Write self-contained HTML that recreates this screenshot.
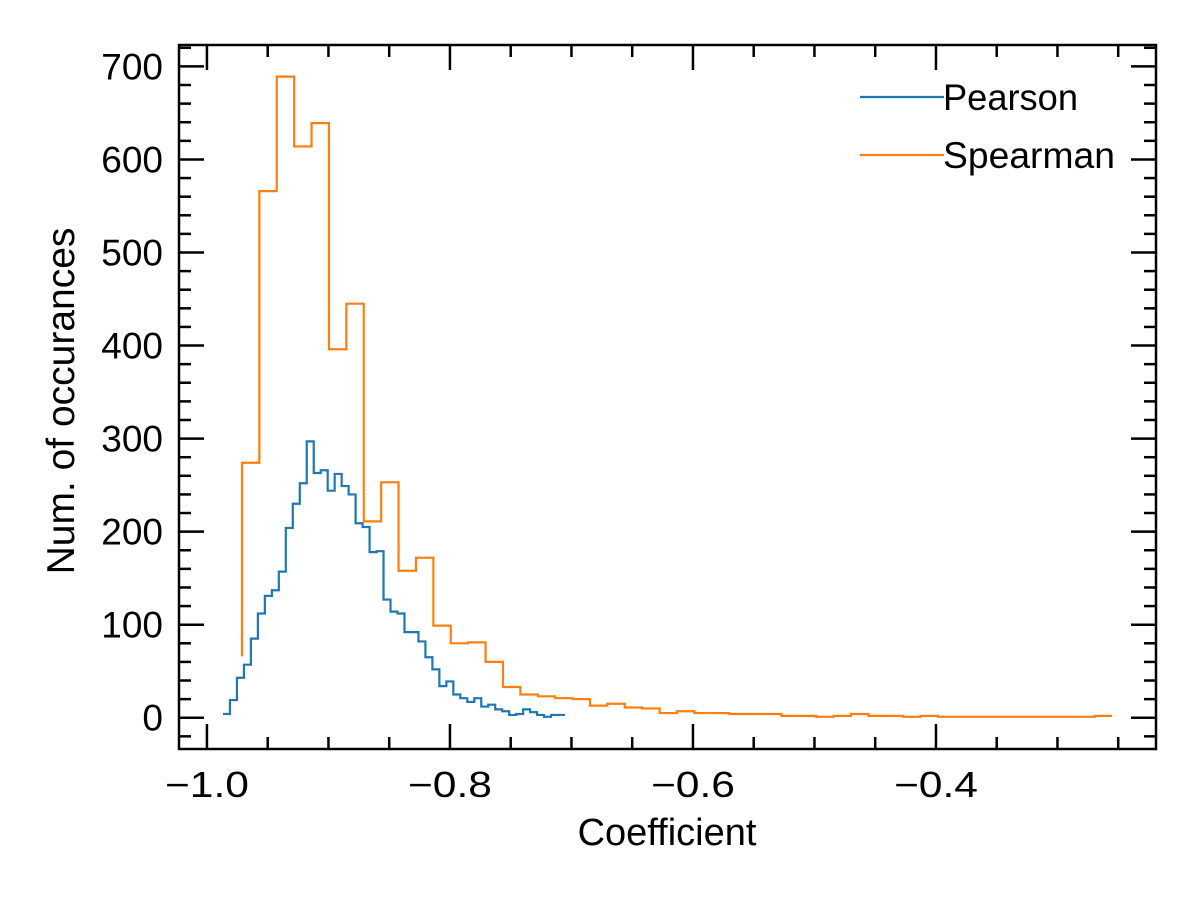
<!DOCTYPE html>
<html><head><meta charset="utf-8"><style>
html,body{margin:0;padding:0;background:#fff}
svg text{font-family:"Liberation Sans",sans-serif;fill:#000}
</style></head><body>
<svg id="chart" width="1200" height="900" xmlns="http://www.w3.org/2000/svg">
<g id="marks"></g>
<g id="axes"></g>
</svg>
<script>
const pearsonStart = -0.9868, pearsonEnd = -0.7053;
const pearsonCounts = [4,4,19,43,57,85,112,131,137,157,204,230,252,297,263,266,244,262,249,240,209,205,178,179,127,114,112,92,92,82,65,52,34,39,25,21,17,21,12,14,9,7,3,4,9,6,3,1,3,3];
const spearmanStart = -0.9712, spearmanEnd = -0.2551;
const spearmanCounts = [66,274,566,689,614,639,396,445,211,253,158,172,99,80,81,60,33,25,23,21,20,13,15,11,10,5,7,5,5,4,4,4,2,2,1,2,4,2,2,1,2,1,1,1,1,1,1,1,1,1,2];
const xTicks = [-1.0,-0.8,-0.6,-0.4];
const xTickLabels = ["\u22121.0","\u22120.8","\u22120.6","\u22120.4"];
const yTicks = [0,100,200,300,400,500,600,700];

const L=179,R=1156,T=45,B=749;
const xMin=-1.0230,xMax=-0.2189,yMin=-33.6,yMax=723;
const sx=v=>L+(v-xMin)/(xMax-xMin)*(R-L);
const sy=v=>B-(v-yMin)/(yMax-yMin)*(B-T);
const NS="http://www.w3.org/2000/svg";
function mk(tag,attrs,parent){const e=document.createElementNS(NS,tag);for(const k in attrs)e.setAttribute(k,attrs[k]);parent.appendChild(e);return e;}
const marks=document.getElementById('marks'), axes=document.getElementById('axes');

function stepPath(start,end,counts){
  const n=counts.length-1, w=(end-start)/n;
  let d=`M${sx(start).toFixed(2)},${sy(counts[0]).toFixed(2)}`;
  for(let i=1;i<=n;i++){d+=` V${sy(counts[i]).toFixed(2)} H${sx(start+i*w).toFixed(2)}`;}
  return d;
}
const p1=mk('path',{d:stepPath(pearsonStart,pearsonEnd,pearsonCounts),fill:'none',stroke:'#1f77b4','stroke-width':2.2},marks);


const p2=mk('path',{d:stepPath(spearmanStart,spearmanEnd,spearmanCounts),fill:'none',stroke:'#ff7f0e','stroke-width':2.2},marks);



const fr=mk('rect',{x:L,y:T,width:R-L,height:B-T,fill:'none',stroke:'#000','stroke-width':2.5},axes);


for(let k=0;k<=15;k++){
  const v=-1.0+k*0.05;
  const x=sx(v); const major=k%4===0;
  const len=major?25:12;
  mk('line',{x1:x,x2:x,y1:B,y2:B-len,stroke:'#000','stroke-width':2.5},axes);
  mk('line',{x1:x,x2:x,y1:T,y2:T+len,stroke:'#000','stroke-width':2.5},axes);
}
xTicks.forEach((v,i)=>{
  const t=mk('text',{x:sx(v)-42,y:797,'font-size':36,textLength:84,lengthAdjust:'spacingAndGlyphs'},axes);
  t.textContent=xTickLabels[i];
  
  
});
for(let v=-20;v<=720;v+=20){
  const y=sy(v); const major=v%100===0; const len=major?25:12;
  mk('line',{x1:L,x2:L+len,y1:y,y2:y,stroke:'#000','stroke-width':2.5},axes);
  mk('line',{x1:R,x2:R-len,y1:y,y2:y,stroke:'#000','stroke-width':2.5},axes);
}
yTicks.forEach(v=>{
  const t=mk('text',{x:163,y:sy(v)+13,'font-size':37,'text-anchor':'end'},axes);
  t.textContent=String(v);
  
  
});
const xt=mk('text',{x:667,y:845,'font-size':38,'text-anchor':'middle'},axes);
xt.textContent='Coefficient';


const yt=mk('text',{x:0,y:0,'font-size':39,'text-anchor':'middle',transform:'translate(74,401) rotate(-90)'},axes);
yt.textContent='Num. of occurances';


const leg=mk('g',{},axes);


[['Pearson','#1f77b4',97,135],['Spearman','#ff7f0e',155,172]].forEach(([n,c,y,w])=>{
  const g=mk('g',{},leg);
  
  
  mk('line',{x1:860,x2:944,y1:y,y2:y,stroke:c,'stroke-width':2.2},g);
  const t=mk('text',{x:943,y:y+13,'font-size':37,textLength:w,lengthAdjust:'spacingAndGlyphs'},g);
  t.textContent=n;
});
</script>
</body></html>
